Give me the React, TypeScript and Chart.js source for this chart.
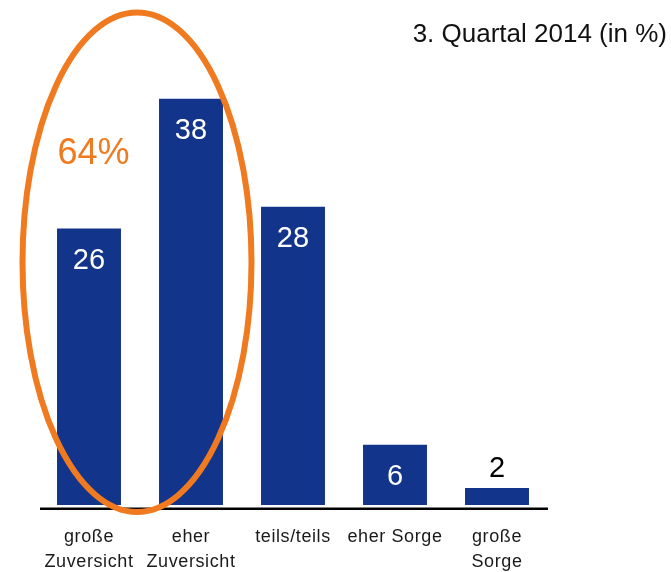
import React, { useEffect, useRef } from 'react';
import { Chart, registerables } from 'chart.js';

Chart.register(...registerables);

const categories: (string | string[])[] = [
  ['große', 'Zuversicht'],
  ['eher', 'Zuversicht'],
  'teils/teils',
  'eher Sorge',
  ['große', 'Sorge'],
];
const values = [26, 38, 28, 6, 2];
const titleText = '3. Quartal 2014 (in %)';
const highlightText = '64%';

const BAR_COLOR = '#12348A';
const ORANGE = '#F07A20';
const FONT = '"Liberation Sans", Arial, Helvetica, sans-serif';

const overlayPlugin = {
  id: 'overlay',
  beforeDraw(chart: any) {
    chart.ctx.letterSpacing = '0.6px';
  },
  beforeDatasetsDraw(chart: any) {
    chart.ctx.letterSpacing = '0px';
  },
  afterDraw(chart: any) {
    const ctx = chart.ctx as CanvasRenderingContext2D;
    const area = chart.chartArea;
    const meta = chart.getDatasetMeta(0);
    ctx.save();
    (ctx as any).letterSpacing = '0px';

    // axis line
    ctx.strokeStyle = '#000';
    ctx.lineWidth = 2.5;
    ctx.beginPath();
    ctx.moveTo(area.left + 2, area.bottom + 3.75);
    ctx.lineTo(area.right, area.bottom + 3.75);
    ctx.stroke();

    // value labels
    const vs = 29;
    ctx.font = `${vs}px ${FONT}`;
    ctx.textAlign = 'center';
    ctx.textBaseline = 'alphabetic';
    meta.data.forEach((bar: any, i: number) => {
      const v = values[i];
      const inside = v >= 5;
      const cy = inside ? bar.y + 30 : bar.y - 21.5;
      ctx.fillStyle = inside ? '#ffffff' : '#000000';
      ctx.fillText(String(v), bar.x, cy + 0.358 * vs);
    });

    // title
    ctx.font = `26px ${FONT}`;
    ctx.textAlign = 'right';
    ctx.fillStyle = '#111111';
    ctx.fillText(titleText, 667, 41.5);

    // highlight ellipse around first two bars
    const b0 = meta.data[0];
    const b1 = meta.data[1];
    const cx = (b0.x + b1.x) / 2 - 3;
    const top = 12.5;
    const bottom = area.bottom + 7;
    ctx.strokeStyle = ORANGE;
    ctx.lineWidth = 6;
    ctx.beginPath();
    ctx.ellipse(cx, (top + bottom) / 2, 114.5, (bottom - top) / 2, 0, 0, Math.PI * 2);
    ctx.stroke();

    // 64%
    const hs = 36;
    ctx.font = `${hs}px ${FONT}`;
    ctx.textAlign = 'center';
    ctx.fillStyle = ORANGE;
    ctx.fillText(highlightText, b0.x + 4.5, 151.5 + 0.358 * hs);

    ctx.restore();
  },
};

export default function App() {
  const canvasRef = useRef<HTMLCanvasElement | null>(null);

  useEffect(() => {
    if (!canvasRef.current) return;
    const chart = new Chart(canvasRef.current, {
      type: 'bar',
      data: {
        labels: categories as any,
        datasets: [
          {
            data: values,
            backgroundColor: BAR_COLOR,
            borderWidth: 0,
            barPercentage: 0.627,
            categoryPercentage: 1,
          },
        ],
      },
      options: {
        animation: false,
        responsive: false,
        devicePixelRatio: 1,
        layout: { padding: { top: 77, left: 38, right: 123, bottom: 0 } },
        plugins: {
          legend: { display: false },
          tooltip: { enabled: false },
          title: { display: false },
        },
        scales: {
          x: {
            grid: { display: false, drawTicks: false },
            border: { display: false },
            ticks: {
              color: '#1a1a1a',
              font: { family: FONT, size: 18, lineHeight: 1.39 },
              padding: 20,
              maxRotation: 0,
              minRotation: 0,
              autoSkip: false,
            },
            afterFit: (scale: any) => {
              scale.height = 67;
            },
          },
          y: {
            display: false,
            min: 0.43,
            max: 40,
          },
        },
      },
      plugins: [overlayPlugin],
    });
    return () => chart.destroy();
  }, []);

  return (
    <div style={{ position: 'absolute', left: 0, top: 0, width: 671, height: 572, background: '#fff' }}>
      <canvas ref={canvasRef} width={671} height={572} />
    </div>
  );
}
